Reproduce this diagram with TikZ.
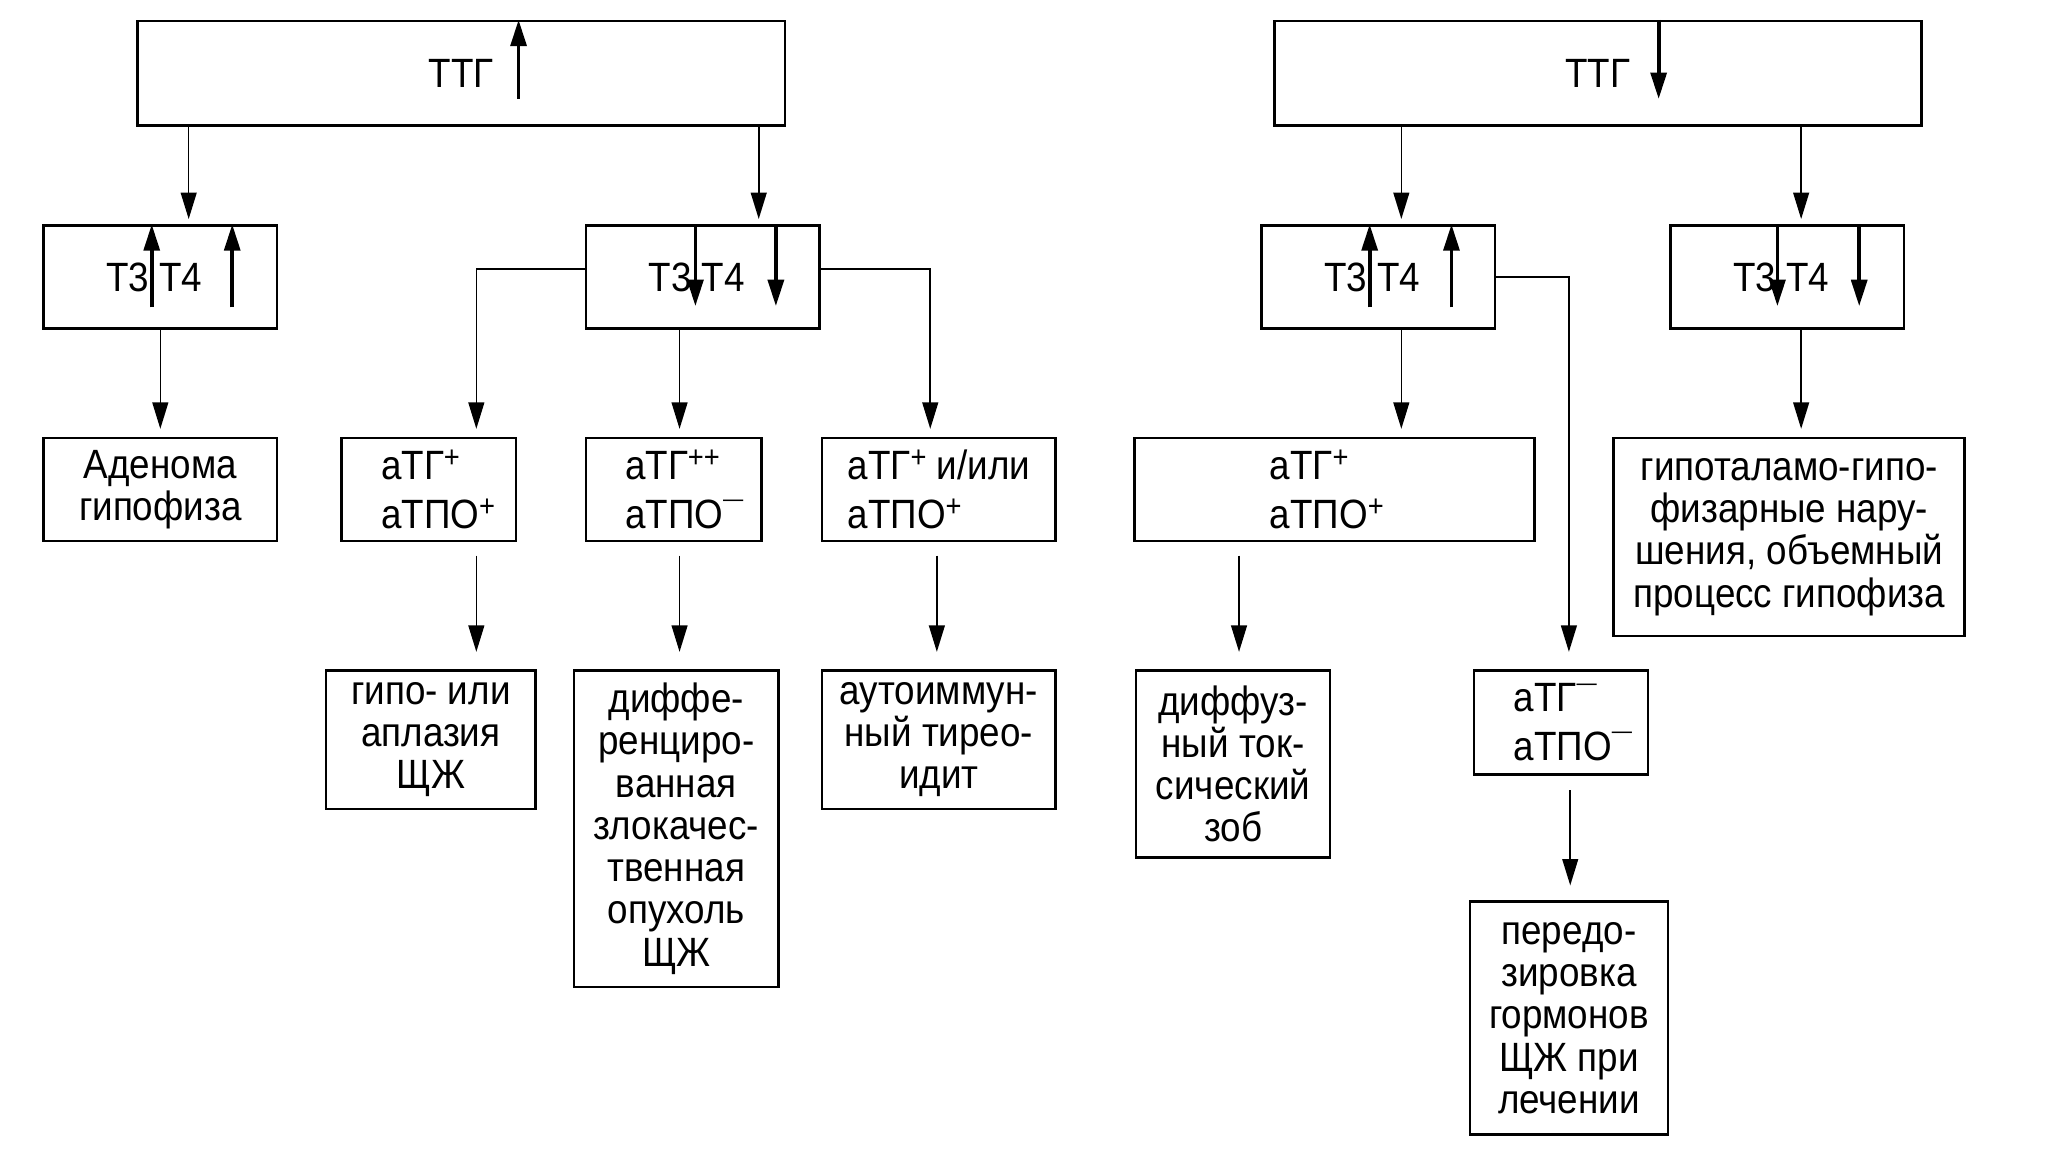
\documentclass[tikz,border=0pt]{standalone}
\usepackage{fontspec}
\setmainfont[FakeStretch=0.9]{Liberation Sans}
\usetikzlibrary{arrows.meta}

\newcommand{\boxfont}{\fontsize{31}{32}\selectfont}
\newcommand{\plusup}{\raisebox{9pt}{\fontsize{23}{23}\selectfont +}}
\newcommand{\minusup}{\raisebox{16.5pt}{\fontsize{17}{17}\selectfont —}}

\tikzset{
  box/.style={draw, line width=2pt, inner sep=0pt, align=center, font=\boxfont},
  conn/.style={line width=1.2pt, -{Triangle[length=20pt,width=12pt]}},
  hormarrow/.style={line width=2.8pt, -{Triangle[length=20pt,width=12pt]}}
}

\begin{document}
\begin{tikzpicture}[x=1pt, y=-1pt]
\useasboundingbox (0,0) rectangle (1568,882);

\node[box, minimum width=491pt, minimum height=79pt] (ttgL) at (349.5,55.5) {ТТГ};
\node[box, minimum width=490pt, minimum height=79pt] (ttgR) at (1211,55.5) {ТТГ};

\node[box, minimum width=177pt, minimum height=78pt] (ta) at (121.5,210) {Т3 Т4\hspace*{9pt}};
\node[box, minimum width=177pt, minimum height=78pt] (tb) at (532.5,210) {Т3 Т4\hspace*{9pt}};
\node[box, minimum width=177pt, minimum height=78pt] (tc) at (1044.5,210) {Т3 Т4\hspace*{9pt}};
\node[box, minimum width=177pt, minimum height=78pt] (td) at (1354.5,210) {Т3 Т4\hspace*{9pt}};

\node[box, minimum width=177pt, minimum height=78pt] (aden) at (121.5,371) {Аденома\\гипофиза};
\node[box, align=left, minimum width=132pt, minimum height=78pt] (atgA) at (325,371) {\hspace*{14pt}аТГ\plusup\\[5pt]\hspace*{14pt}аТПО\plusup};
\node[box, align=left, minimum width=133pt, minimum height=78pt] (atgB) at (510.5,371) {\hspace*{16pt}аТГ\plusup\plusup\\[5pt]\hspace*{16pt}аТПО\minusup};
\node[box, align=left, minimum width=177pt, minimum height=78pt] (atgC) at (711.5,371) {аТГ\plusup{} и/или\\[5pt]аТПО\plusup};
\node[box, align=left, minimum width=303pt, minimum height=78pt] (atgD) at (1011.5,371) {аТГ\plusup\\[5pt]аТПО\plusup\hspace*{12pt}};
\node[box, minimum width=266pt, minimum height=150pt] (hypoth) at (1356,407) {гипоталамо-гипо-\\физарные нару-\\шения, объемный\\процесс гипофиза};

\node[box, minimum width=159pt, minimum height=105pt] (hypo) at (326.5,560.5) {гипо- или\\аплазия\\ЩЖ};
\node[box, minimum width=155pt, minimum height=240pt] (cancer) at (512.5,628) {диффе-\\ренциро-\\ванная\\злокачес-\\твенная\\опухоль\\ЩЖ};
\node[box, minimum width=177pt, minimum height=105pt] (autoim) at (711.5,560.5) {аутоиммун-\\ный тирео-\\идит};
\node[box, minimum width=147pt, minimum height=142pt] (goiter) at (934.5,579) {диффуз-\\ный ток-\\сический\\зоб};
\node[box, align=left, minimum width=132pt, minimum height=79pt] (atgE) at (1183,547.5) {\hspace*{18pt}аТГ\minusup\\[5pt]\hspace*{18pt}аТПО\minusup};
\node[box, minimum width=150pt, minimum height=177pt] (overdose) at (1189,771.5) {передо-\\зировка\\гормонов\\ЩЖ при\\лечении};

\draw[hormarrow] ([xshift=43.5pt,yshift=-19.5pt]ttgL.center) -- ([xshift=43.5pt]ttgL.north);
\draw[hormarrow] ([xshift=46pt]ttgR.north) -- ([xshift=46pt,yshift=-19.5pt]ttgR.center);
\foreach \dx in {-6.5,54.5}
  \draw[hormarrow] ([xshift=\dx pt,yshift=-23pt]ta.center) -- ([xshift=\dx pt]ta.north);
\foreach \dx in {-5.5,55.5}
  \draw[hormarrow] ([xshift=\dx pt]tb.north) -- ([xshift=\dx pt,yshift=-22pt]tb.center);
\foreach \dx in {-6.5,55.5}
  \draw[hormarrow] ([xshift=\dx pt,yshift=-23pt]tc.center) -- ([xshift=\dx pt]tc.north);
\foreach \dx in {-7.5,54.5}
  \draw[hormarrow] ([xshift=\dx pt]td.north) -- ([xshift=\dx pt,yshift=-22pt]td.center);

\draw[conn, shorten >=4pt] ([xshift=-206.5pt]ttgL.south) -- ([xshift=21.5pt]ta.north);
\draw[conn, shorten >=4pt] ([xshift=225.5pt]ttgL.south) -- ([xshift=42.5pt]tb.north);
\draw[conn, shorten >=4pt] ([xshift=-149pt]ttgR.south) -- ([xshift=17.5pt]tc.north);
\draw[conn, shorten >=4pt] ([xshift=154pt]ttgR.south) -- ([xshift=10.5pt]td.north);

\draw[conn, shorten >=6pt] (ta.south) -- (aden.north);
\draw[conn, shorten >=6pt] ([yshift=6pt]tb.west) -| ([xshift=36pt]atgA.north);
\draw[conn, shorten >=6pt] ([xshift=-17.5pt]tb.south) -- ([xshift=4.5pt]atgB.north);
\draw[conn, shorten >=6pt] ([yshift=6pt]tb.east) -| ([xshift=-6.5pt]atgC.north);
\draw[conn, shorten >=6pt] ([xshift=17.5pt]tc.south) -- ([xshift=50.5pt]atgD.north);
\draw[conn, shorten >=13pt] (tc.east) -| ([xshift=6pt]atgE.north);
\draw[conn, shorten >=6pt] ([xshift=10.5pt]td.south) -- ([xshift=9pt]hypoth.north);

\draw[conn, shorten <=10pt, shorten >=13pt] ([xshift=36pt]atgA.south) -- ([xshift=34.5pt]hypo.north);
\draw[conn, shorten <=10pt, shorten >=13pt] ([xshift=4.5pt]atgB.south) -- ([xshift=2.5pt]cancer.north);
\draw[conn, shorten <=10pt, shorten >=13pt] ([xshift=-1.5pt]atgC.south) -- ([xshift=-1.5pt]autoim.north);
\draw[conn, shorten <=10pt, shorten >=13pt] ([xshift=-72.5pt]atgD.south) -- ([xshift=4.5pt]goiter.north);
\draw[conn, shorten <=11pt, shorten >=11pt] ([xshift=7pt]atgE.south) -- ([xshift=1pt]overdose.north);
\end{tikzpicture}
\end{document}
